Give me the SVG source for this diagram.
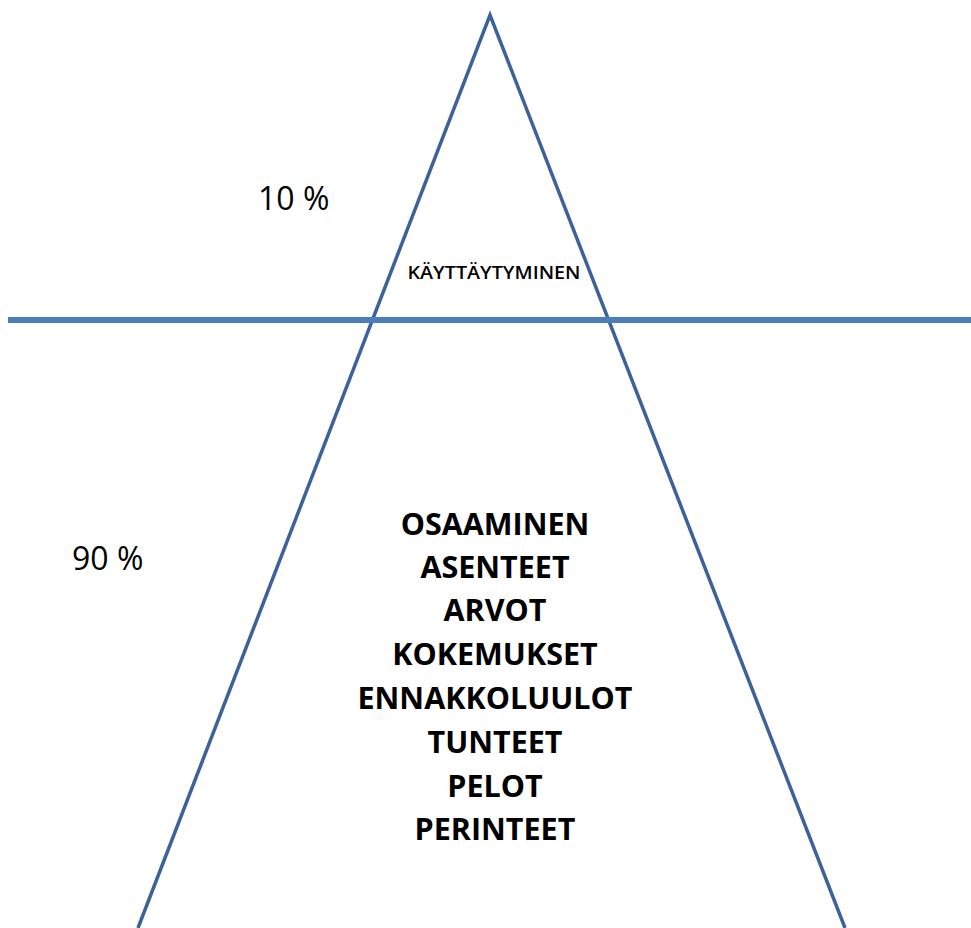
<svg xmlns="http://www.w3.org/2000/svg" width="971" height="928" viewBox="0 0 971 928">
<style>
.leg{fill:none;stroke:#3c6299;stroke-width:3.5;stroke-linejoin:miter}
.hline{stroke:#4a7ebb;stroke-width:6}
.pct{font-family:"Open Sans","Liberation Sans",sans-serif;font-size:32px;fill:#000}
.small{font-family:"Open Sans","Liberation Sans",sans-serif;font-size:18.5px;font-weight:600;fill:#000;text-anchor:middle}
.item{font-family:"Open Sans","Liberation Sans",sans-serif;font-size:30.5px;font-weight:700;fill:#000;text-anchor:middle}
</style>
<rect width="971" height="928" fill="#fff"/>
<g id="connectors">
<polyline class="leg" points="138,928 490,15 845,928"/>
<line class="hline" x1="8" y1="320" x2="971" y2="320"/>
</g>
<g id="label-10"><text class="pct" x="258" y="210">10 %</text></g>
<g id="label-90"><text class="pct" x="72" y="570">90 %</text></g>
<g id="top"><text class="small" x="494" y="279" textLength="173" lengthAdjust="spacingAndGlyphs">KÄYTTÄYTYMINEN</text></g>
<g id="bottom">
<text class="item" x="495" y="535">OSAAMINEN</text>
<text class="item" x="495" y="578">ASENTEET</text>
<text class="item" x="495" y="621">ARVOT</text>
<text class="item" x="495" y="665">KOKEMUKSET</text>
<text class="item" x="495" y="709">ENNAKKOLUULOT</text>
<text class="item" x="495" y="753">TUNTEET</text>
<text class="item" x="495" y="797">PELOT</text>
<text class="item" x="495" y="840">PERINTEET</text>
</g>
</svg>
